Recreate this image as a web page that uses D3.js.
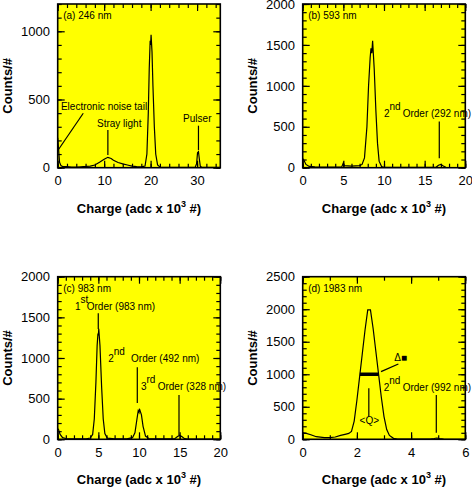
<!doctype html>
<html>
<meta charset="utf-8">
<style>
body { margin: 0; padding: 0; background: #fff; }
svg { display: block; font-family: 'Liberation Sans', Arial, sans-serif; }
.tick text { font-size: 13px; fill: #000; }
.note { font-size: 10px; }
.title { font-size: 13px; font-weight: bold; }
</style>
<body>
<svg width="472" height="487"></svg>
<script src="https://d3js.org/d3.v7.min.js"></script>
<script>

// spectra: [charge (adc x 10^3), counts]
var spec246 = [
  [0, 220], [0.2, 130], [0.4, 40], [0.7, 15], [1, 10], [2, 8], [3, 5], [4, 5], [5, 7],
  [6, 9], [7, 12], [8, 20], [9, 40], [10, 62], [10.8, 76], [11.5, 68], [12, 55],
  [13, 38], [14, 28], [15, 20], [16, 12], [17, 8], [18, 6], [18.8, 12], [19.2, 100],
  [19.5, 400], [19.7, 720], [19.9, 930], [20.0, 900], [20.1, 975], [20.3, 850],
  [20.5, 600], [20.8, 300], [21.1, 100], [21.5, 20], [22, 5], [25, 3], [29.6, 3],
  [29.9, 30], [30.1, 110], [30.3, 118], [30.5, 60], [30.7, 10], [31, 3], [35, 2]
];
var spec593 = [
  [0, 110], [0.15, 90], [0.4, 40], [0.8, 15], [1.5, 10], [3, 8], [4.8, 10], [5.0, 60],
  [5.1, 25], [6, 20], [7, 25], [7.3, 40], [7.6, 120], [7.9, 500], [8.1, 1000],
  [8.3, 1350], [8.4, 1460], [8.5, 1400], [8.6, 1550], [8.8, 1200], [9.0, 700],
  [9.2, 300], [9.4, 80], [9.7, 15], [10, 5], [15, 3], [16.4, 5], [16.7, 30],
  [17, 40], [17.3, 20], [17.6, 5], [20, 2]
];
var spec983 = [
  [0, 130], [0.1, 120], [0.3, 60], [0.6, 20], [1, 10], [2, 5], [3.5, 5], [4.0, 15],
  [4.3, 60], [4.5, 250], [4.7, 700], [4.85, 1150], [4.95, 1300], [5.0, 1280],
  [5.05, 1360], [5.2, 1150], [5.4, 650], [5.6, 250], [5.8, 70], [6.1, 15], [7, 5],
  [8.5, 5], [9.2, 20], [9.5, 80], [9.75, 250], [9.9, 350], [10.0, 330], [10.05, 375],
  [10.3, 300], [10.5, 160], [10.8, 40], [11.2, 10], [13, 5], [14.4, 8], [14.7, 30],
  [15.0, 50], [15.3, 30], [15.6, 8], [16, 3], [20, 2]
];
var spec1983 = [
  [0, 100], [0.1, 95], [0.3, 70], [0.5, 40], [0.8, 25], [1.0, 25], [1.2, 35], [1.4, 60],
  [1.6, 80], [1.7, 90], [1.8, 120], [1.9, 280], [2.0, 600], [2.1, 960], [2.2, 1320],
  [2.3, 1680], [2.4, 1990], [2.5, 1990], [2.6, 1700], [2.7, 1350], [2.8, 1000],
  [2.9, 650], [3.0, 350], [3.1, 150], [3.2, 60], [3.35, 15], [3.5, 3], [4.7, 3],
  [4.85, 12], [4.95, 20], [5.05, 10], [5.2, 2], [6, 0]
];

var panelTitles = ["(a) 246 nm", "(b) 593 nm", "(c) 983 nm", "(d) 1983 nm"];
var xMax = [35, 20, 20, 6];
var yMax = [1200, 2000, 2000, 2500];
var xMajor = [[0, 10, 20, 30], [0, 5, 10, 15, 20], [0, 5, 10, 15, 20], [0, 2, 4, 6]];
var xMinorStep = [2, 1, 1, 1];
var yMajor = [[0, 500, 1000], [0, 500, 1000, 1500, 2000], [0, 500, 1000, 1500, 2000],
              [0, 500, 1000, 1500, 2000, 2500]];
var yMinorStep = [100, 100, 100, 100];
var spectra = [spec246, spec593, spec983, spec1983];

var svg = d3.select("svg");
var boxes = [
  {left: 57.7, top: 4, w: 162.6, h: 163.7},
  {left: 302.7, top: 4, w: 162.6, h: 163.7},
  {left: 57.7, top: 276.7, w: 162.6, h: 162.6},
  {left: 302.7, top: 276.7, w: 162.6, h: 162.6}
];

var panels = boxes.map(function(b, i) {
  var g = svg.append("g").attr("transform", "translate(" + b.left + "," + b.top + ")");
  var x = d3.scaleLinear().domain([0, xMax[i]]).range([0, b.w]);
  var y = d3.scaleLinear().domain([0, yMax[i]]).range([b.h, 0]);

  g.append("rect").attr("width", b.w).attr("height", b.h).attr("fill", "#ffff00");

  var xMinor = d3.range(0, xMax[i] + 1e-9, xMinorStep[i]);
  var yMinor = d3.range(0, yMax[i] + 1e-9, yMinorStep[i]);
  var fmt = d3.format("d");

  // minor ticks on all four sides, inward
  g.append("g").attr("transform", "translate(0," + b.h + ")")
    .call(d3.axisBottom(x).tickValues(xMinor).tickSize(-4).tickFormat(""));
  g.append("g").call(d3.axisTop(x).tickValues(xMinor).tickSize(-4).tickFormat(""));
  g.append("g").call(d3.axisLeft(y).tickValues(yMinor).tickSize(-4).tickFormat(""));
  g.append("g").attr("transform", "translate(" + b.w + ",0)")
    .call(d3.axisRight(y).tickValues(yMinor).tickSize(-4).tickFormat(""));

  // major ticks + labels
  g.append("g").attr("transform", "translate(0," + b.h + ")")
    .call(d3.axisBottom(x).tickValues(xMajor[i]).tickSize(-7).tickPadding(8).tickFormat(fmt));
  g.append("g").call(d3.axisTop(x).tickValues(xMajor[i]).tickSize(-7).tickFormat(""));
  g.append("g").call(d3.axisLeft(y).tickValues(yMajor[i]).tickSize(-7).tickPadding(7.7).tickFormat(fmt));
  g.append("g").attr("transform", "translate(" + b.w + ",0)")
    .call(d3.axisRight(y).tickValues(yMajor[i]).tickSize(-7).tickFormat(""));

  g.selectAll(".domain").remove();
  g.selectAll(".tick line").attr("stroke", "#000").attr("stroke-width", 1.2);
  g.selectAll(".tick text").attr("font-family", null).attr("font-size", null);

  g.append("defs").append("clipPath").attr("id", "clip" + i)
    .append("rect").attr("width", b.w).attr("height", b.h);

  g.append("path")
    .datum(spectra[i])
    .attr("clip-path", "url(#clip" + i + ")")
    .attr("fill", "none")
    .attr("stroke", "#000")
    .attr("stroke-width", 1.2)
    .attr("d", d3.line().x(function(d) { return x(d[0]); }).y(function(d) { return y(d[1]); }));

  g.append("rect").attr("width", b.w).attr("height", b.h)
    .attr("fill", "none").attr("stroke", "#000").attr("stroke-width", 1.6);

  g.append("text").attr("class", "note").attr("x", 5.5).attr("y", 15).text(panelTitles[i]);

  // axis titles
  var xt = g.append("text").attr("class", "title").attr("text-anchor", "middle")
    .attr("x", b.w / 2).attr("y", b.h + 45);
  xt.append("tspan").text("Charge (adc x 10");
  xt.append("tspan").attr("font-size", "9px").attr("dy", -6).text("3");
  xt.append("tspan").attr("dy", 6).text(" #)");

  g.append("text").attr("class", "title").attr("text-anchor", "middle")
    .attr("transform", "translate(-45.5," + (b.h / 2) + ") rotate(-90)")
    .text("Counts/#");

  return {g: g, x: x, y: y};
});

function note(p, xv, yv, txt) {
  return p.g.append("text").attr("class", "note").attr("x", p.x(xv)).attr("y", p.y(yv)).text(txt);
}
function pointer(p, x1, y1, x2, y2, w) {
  p.g.append("line")
    .attr("x1", p.x(x1)).attr("y1", p.y(y1)).attr("x2", p.x(x2)).attr("y2", p.y(y2))
    .attr("stroke", "#000").attr("stroke-width", w || 1.2);
}
function order(p, xv, yv, num, sup, xRest, rest) {
  note(p, xv, yv, num);
  p.g.append("text").attr("class", "note")
    .attr("x", p.x(xv) + 5.5).attr("y", p.y(yv) - 7).text(sup);
  note(p, xRest, yv, rest);
}

// (a)
var pa = panels[0];
note(pa, 0.7, 423, "Electronic noise tail").attr("font-size", "9.4px");
pointer(pa, 5.5, 399, 0.1, 130);
note(pa, 8.46, 298, "Stray light");
pointer(pa, 10.8, 276, 10.8, 93);
note(pa, 27, 335, "Pulser");
pointer(pa, 30.3, 308, 30.3, 130);

// (b)
var pb = panels[1];
order(pb, 10.0, 616, "2", "nd", 12.3, "Order (292 nm)");
pointer(pb, 16.8, 565, 16.8, 115);

// (c)
var pc = panels[2];
order(pc, 2.13, 1590, "1", "st", 3.57, "Order (983 nm)");
pointer(pc, 4.99, 1550, 4.99, 1357);
order(pc, 6.22, 954, "2", "nd", 9.02, "Order (492 nm)");
pointer(pc, 9.79, 886, 9.79, 446);
order(pc, 10.25, 606, "3", "rd", 12.3, "Order (328 nm)");
pointer(pc, 14.92, 545, 14.92, 53);

// (d)
var pd = panels[3];
pointer(pd, 2.11, 1000, 2.8, 1000, 3.5);
pointer(pd, 2.89, 1040, 3.53, 1158);
note(pd, 3.38, 1209, "Δ■");
pointer(pd, 2.44, 785, 2.44, 348);
note(pd, 2.46, 235, "<Q>").attr("text-anchor", "middle");
order(pd, 2.99, 747, "2", "nd", 3.69, "Order (992 nm)");
pointer(pd, 4.93, 680, 4.93, 100);

</script>
</body>
</html>
